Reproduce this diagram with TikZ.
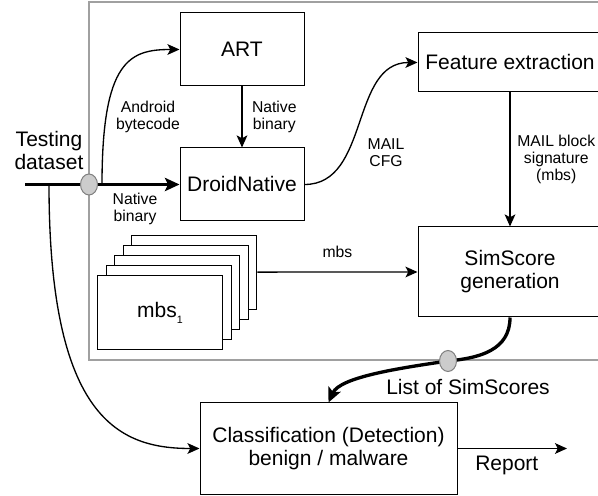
\documentclass[tikz,border=0pt]{standalone}
\usepackage{fontspec}
\setmainfont{Liberation Sans}
\usetikzlibrary{arrows.meta,shapes.geometric}
\definecolor{frm}{HTML}{A0A0A0}
\definecolor{junc}{HTML}{CCCCCC}
\tikzset{
  big/.style={font=\fontsize{15.75}{17.25}\selectfont},
  blk/.style={draw, line width=0.75pt, fill=white, align=center, inner sep=2pt, big},
  lbl/.style={align=center, inner sep=1pt, font=\fontsize{11.8}{12.75}\selectfont},
  flow/.style={-{Stealth[length=9pt,width=8pt,inset=2pt]}, line width=1pt},
  heavy/.style={-{Stealth[length=11pt,width=10pt,inset=2.5pt]}, line width=2.5pt},
  junction/.style={ellipse, draw=gray, fill=junc, line width=0.75pt, minimum width=12.75pt, minimum height=15.75pt, inner sep=0pt},
}
\newcommand{\lowsub}[1]{\raisebox{-4.5pt}{\fontsize{8}{8}\selectfont #1}}
\begin{document}
\begin{tikzpicture}[x=0.75pt,y=0.75pt]
  \useasboundingbox (0,0) rectangle (598,495);
  \clip (0,0) rectangle (598,495);
  % frame round the detector
  \draw[frm, line width=1.1pt] (89,135) rectangle (610,493);
  % boxes
  \node[blk, minimum width=93pt, minimum height=54.75pt] (art) at (242,445.5) {ART};
  \node[blk, minimum width=93pt, minimum height=54.75pt] (dn) at (242,310.5) {DroidNative};
  \node[blk, minimum width=138pt, minimum height=44.25pt] (fe) at (510,432.5) {Feature extraction};
  \node[blk, minimum width=138pt, minimum height=67.5pt] (ss) at (510,223) {SimScore\\generation};
  \node[blk, minimum width=192.75pt, minimum height=68.25pt] (cls) at (328.5,46.5) {Classification (Detection)\\benign / malware};
  \foreach \i in {4,...,1}
    \node[blk, minimum width=93.75pt, minimum height=55.5pt] (mbs\i) at (160+8.6*\i,182.5+10.1*\i) {};
  \node[blk, minimum width=93.75pt, minimum height=55.5pt] (mbs0) at (160,182.5) {mbs\lowsub{1}};
  % input line
  \coordinate (src) at (25,310.5);
  \coordinate (split) at (102,310.5);
  \coordinate (drop) at (49,310.5);
  \node[big, align=center, inner sep=0pt] (tds) at (49,344) {Testing\\dataset};
  \draw[heavy] (src) -- (dn.west);
  \draw[flow] (split) .. controls (102,435) and (130,445.5) .. (art.west);
  \draw[flow] (drop) .. controls (49,75) and (120,46.5) .. (cls.west);
  \node[junction] (j1) at (89,310.5) {};
  \node[lbl] (ab) at (148,378) {Android\\bytecode};
  \node[lbl] (nb) at (135,286) {Native\\binary};
  % detector flow
  \draw[flow] (art.south) -- node[lbl, anchor=west, xshift=6pt] {Native\\binary} (dn.north);
  \draw[flow] (dn.east) .. controls (370,310.5) and (350,432.5) .. (fe.west);
  \node[lbl] (cfg) at (386,342) {MAIL\\CFG};
  \draw[flow] (fe.south) -- node[lbl, anchor=west, xshift=4pt] {MAIL block\\signature\\(mbs)} (ss.north);
  \draw[flow] (mbs4.east) -- node[lbl, above=9pt] {mbs} (ss.west);
  % scores to classifier
  \coordinate (j2p) at (448,134);
  \draw[line width=2.5pt] (ss.south) .. controls (510,145) and (480,137) .. (j2p);
  \draw[heavy] (j2p) .. controls (400,127) and (340,118) .. (cls.north);
  \node[junction] (j2) at (j2p) {};
  \node[big] (lss) at (468,108) {List of SimScores};
  \coordinate (rep) at (567,46.5);
  \draw[flow] (cls.east) -- node[big, below=2pt, pos=0.45] {Report} (rep);
\end{tikzpicture}
\end{document}
